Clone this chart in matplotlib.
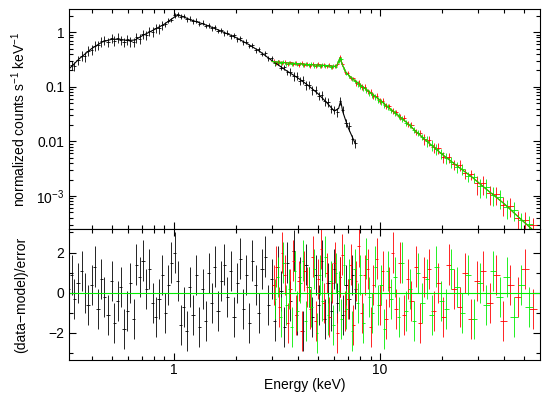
import numpy as np
import matplotlib
matplotlib.use("Agg")
import matplotlib.pyplot as plt
from matplotlib.ticker import FixedLocator, FixedFormatter, LogLocator, MultipleLocator, NullFormatter

plt.rcParams['font.family'] = ['Liberation Sans', 'DejaVu Sans']
plt.rcParams['mathtext.fontset'] = 'custom'
plt.rcParams['mathtext.rm'] = 'Liberation Sans'

# --- soft X-ray spectrum (black) ---
e_blk = [0.31, 0.32, 0.33, 0.345, 0.36, 0.37, 0.385, 0.40, 0.415, 0.43, 0.445, 0.46, 0.48, 0.50,
         0.515, 0.535, 0.555, 0.575, 0.595, 0.615, 0.64, 0.66, 0.685, 0.71, 0.735, 0.76, 0.79,
         0.82, 0.85, 0.88, 0.91, 0.94, 0.975, 1.01, 1.045, 1.08, 1.12, 1.16, 1.20, 1.24, 1.285,
         1.33, 1.38, 1.43, 1.48, 1.53, 1.585, 1.64, 1.70, 1.76, 1.82, 1.89, 1.96, 2.03, 2.10,
         2.17, 2.25, 2.33, 2.41, 2.50, 2.59, 2.68, 2.78, 2.88, 2.98, 3.09, 3.20, 3.31, 3.43,
         3.55, 3.68, 3.81, 3.95, 4.09, 4.23, 4.38, 4.54, 4.70, 4.87, 5.04, 5.22, 5.41, 5.60,
         5.80, 6.00, 6.20, 6.40, 6.60, 6.85, 7.10, 7.35, 7.60]
f_blk = [0.20, 0.25, 0.24, 0.31, 0.37, 0.36, 0.46, 0.48, 0.57, 0.58, 0.68, 0.72, 0.66, 0.78,
         0.70, 0.79, 0.72, 0.66, 0.74, 0.68, 0.66, 0.80, 0.76, 0.92, 0.88, 1.05, 1.02,
         1.20, 1.18, 1.36, 1.40, 1.62, 1.68, 2.05, 2.15, 1.92, 1.98, 1.74, 1.78, 1.58, 1.62,
         1.44, 1.49, 1.30, 1.34, 1.19, 1.22, 1.06, 1.09, 0.95, 0.98, 0.85, 0.87, 0.74, 0.77,
         0.66, 0.67, 0.56, 0.58, 0.47, 0.49, 0.40, 0.41, 0.33, 0.33, 0.27, 0.28, 0.225, 0.23,
         0.185, 0.19, 0.155, 0.16, 0.13, 0.135, 0.108, 0.11, 0.087, 0.089, 0.069, 0.070, 0.054, 0.053,
         0.040, 0.038, 0.034, 0.056, 0.038, 0.022, 0.019, 0.011, 0.0092]
r_blk = [0.2, 0.9, -0.3, 0.5, 1.1, 0.0, -0.6, 0.4, 1.3, -0.8,
         0.7, -0.2, -1.1, 0.6, -1.5, -0.4, 0.3, -1.8, -0.9, 0.5,
         -1.3, 1.4, 0.8, 1.6, 0.2, 1.2, -0.5, -1.2, -0.3, 0.9,
         -1.0, 0.4, 1.5, 2.0, 0.6, -1.6, -0.7, -1.9, 0.3, -1.1,
         0.9, -1.7, 0.2, -1.4, 1.0, -0.5, 1.3, -0.9, 0.6, 1.4,
         -0.2, 1.1, -1.2, 0.5, 1.7, -0.8, 0.9, -1.5, 1.6, 0.4,
         -1.0, 1.2, 1.8, -0.6, 0.7, -1.4, 1.3, 0.1, -1.7, 1.5,
         -0.4, 2.1, -1.1, 0.8, -1.9, 1.4, 0.3, -1.2, 0.9, -0.6,
         1.6, -1.3, 0.5, -0.9, 1.2, -0.5, 0.8, -1.1, 0.4, -0.3,
         0.9, 0.2]
ferr_blk = [0.20] * 30 + [0.10] * 40 + [0.18] * 22

me_blk = [0.31, 0.35, 0.40, 0.45, 0.50, 0.55, 0.60, 0.65, 0.70, 0.80, 0.90, 1.00, 1.05, 1.10,
          1.20, 1.40, 1.60, 1.80, 2.00, 2.30, 2.60, 3.00, 3.50, 4.00, 4.50, 5.00, 5.50, 6.00,
          6.30, 6.45, 6.60, 7.00, 7.60]
mf_blk = [0.21, 0.33, 0.50, 0.66, 0.74, 0.74, 0.70, 0.72, 0.85, 1.10, 1.40, 1.85, 2.05, 1.95,
          1.70, 1.40, 1.15, 0.95, 0.80, 0.60, 0.45, 0.30, 0.20, 0.145, 0.105, 0.075, 0.052, 0.036,
          0.040, 0.055, 0.035, 0.018, 0.009]

# --- hard X-ray spectra (red, green) ---
e_red = [3.05, 3.15, 3.25, 3.35, 3.46, 3.57, 3.68, 3.80, 3.92, 4.04, 4.17, 4.30, 4.44, 4.58,
         4.72, 4.87, 5.02, 5.18, 5.34, 5.51, 5.68, 5.86, 6.04, 6.22, 6.40, 6.58, 6.78, 6.98,
         7.20, 7.42, 7.65, 7.90, 8.15, 8.42, 8.70, 9.00, 9.30, 9.62, 9.95, 10.3, 10.7, 11.1,
         11.5, 12.0, 12.5, 13.0, 13.6, 14.2, 14.9, 15.6, 16.4, 17.3, 18.2, 19.2, 20.3, 21.5,
         22.8, 24.3, 25.9, 27.6, 29.5, 31.6, 34.0, 36.6, 39.5, 42.8, 46.5, 50.5, 55.0]
f_red = [0.30, 0.27, 0.29, 0.27, 0.285, 0.26, 0.28, 0.26, 0.275, 0.255, 0.27, 0.25, 0.265, 0.245,
         0.26, 0.244, 0.258, 0.24, 0.255, 0.236, 0.25, 0.23, 0.245, 0.265, 0.35, 0.26, 0.19, 0.178,
         0.145, 0.142, 0.119, 0.118, 0.10, 0.099, 0.083, 0.081, 0.069, 0.068, 0.056, 0.056, 0.045, 0.044,
         0.036, 0.034, 0.028, 0.027, 0.021, 0.020, 0.0148, 0.0142, 0.0110, 0.0104, 0.0078, 0.0075, 0.0052, 0.0051,
         0.0038, 0.0037, 0.0026, 0.0025, 0.0017, 0.0017, 0.00112, 0.00108, 0.00068, 0.00066, 0.00039, 0.00037, 0.00029]
r_red = [0.4, 1.3, -0.7, 2.0, 0.9, -1.5, 0.2, 1.6, -1.1, 0.6,
         -1.9, 1.1, 0.3, -0.8, 1.8, -1.4, 0.7, 2.2, -0.5, 1.0,
         -1.2, 0.5, 1.5, -2.0, 0.8, 1.9, -0.9, -0.3, 1.4, -1.6,
         0.6, 2.3, -1.0, 0.9, 1.2, -1.7, 0.4, 1.7, -0.6, 1.1,
         -1.3, 0.3, 2.0, -0.8, 1.5, -1.1, 0.7, -0.4, 1.3, -1.5,
         0.8, 1.2, -0.9, 0.5, -1.2, 1.4, 0.2, -0.7, 1.0, -1.3,
         0.6, 1.1, -0.5, 0.9, -1.4, 0.4, -0.2, 1.2, -0.8]
ferr_red = [0.08] * 30 + [0.12] * 20 + [0.22] * 10 + [0.38] * 9

e_grn = [3.10, 3.20, 3.30, 3.40, 3.51, 3.62, 3.74, 3.86, 3.98, 4.10, 4.23, 4.37, 4.51, 4.65,
         4.80, 4.95, 5.10, 5.26, 5.42, 5.60, 5.77, 5.95, 6.13, 6.31, 6.49, 6.68, 6.88, 7.09,
         7.31, 7.54, 7.78, 8.03, 8.28, 8.56, 8.85, 9.15, 9.46, 9.78, 10.1, 10.5, 10.9, 11.3,
         11.8, 12.3, 12.8, 13.3, 13.9, 14.6, 15.3, 16.0, 16.9, 17.8, 18.7, 19.8, 20.9, 22.2,
         23.6, 25.1, 26.8, 28.6, 30.6, 32.8, 35.3, 38.0, 41.1, 44.6, 48.5, 53.0]
f_grn = [0.275, 0.29, 0.27, 0.284, 0.265, 0.278, 0.262, 0.272, 0.256, 0.268, 0.252, 0.263, 0.248, 0.258,
         0.243, 0.255, 0.241, 0.252, 0.238, 0.247, 0.232, 0.24, 0.235, 0.30, 0.32, 0.215, 0.175, 0.155,
         0.138, 0.126, 0.113, 0.104, 0.094, 0.087, 0.078, 0.072, 0.065, 0.058, 0.053, 0.047, 0.043, 0.037,
         0.033, 0.029, 0.026, 0.022, 0.0196, 0.0165, 0.0142, 0.0121, 0.0101, 0.0086, 0.0072, 0.0060, 0.0050, 0.0042,
         0.0034, 0.0031, 0.0023, 0.0022, 0.0015, 0.00148, 0.00104, 0.00094, 0.00062, 0.00056, 0.00036, 0.00031]
r_grn = [-0.3, 0.8, -1.2, 1.5, -0.6, 0.2, -1.7, 1.1, -0.9, 0.5,
         1.6, -1.4, 0.3, -0.7, 1.2, -2.0, 0.9, -0.4, 1.8, -1.1,
         0.6, -1.6, 1.0, 0.1, -1.3, 1.4, -0.8, 0.7, -1.9, 1.2,
         -0.5, 0.9, -1.5, 1.7, -0.2, -1.0, 1.3, -0.6, 0.4, -1.8,
         1.1, -0.3, 0.8, -1.2, 1.5, -0.9, 0.2, -1.4, 1.0, -0.5,
         0.7, -1.1, 1.3, -0.4, -0.8, 1.2, 0.3, -1.0, 0.9, -1.3,
         0.5, -0.6, 1.1, -0.2, 0.8, -1.2, 0.4, -0.7]
ferr_grn = [0.08] * 30 + [0.12] * 20 + [0.22] * 10 + [0.38] * 8

me_nu = [3.0, 3.5, 4.0, 4.5, 5.0, 5.5, 6.0, 6.2, 6.4, 6.55, 6.8, 7.2, 8.0, 9.0, 10, 11, 12,
         13.5, 15, 17, 20, 24, 28, 33, 40, 48, 58]
mf_nu = [0.29, 0.275, 0.265, 0.255, 0.25, 0.245, 0.235, 0.25, 0.34, 0.26, 0.19, 0.15, 0.11,
         0.078, 0.057, 0.042, 0.032, 0.022, 0.015, 0.0098, 0.0058, 0.0034, 0.0022, 0.0013,
         0.00072, 0.00038, 0.00020]


def half_widths(e):
    e = np.asarray(e, float)
    mid = np.sqrt(e[1:] * e[:-1])
    lo = np.concatenate([[e[0] ** 2 / mid[0]], mid])
    hi = np.concatenate([mid, [e[-1] ** 2 / mid[-1]]])
    return [e - lo, hi - e]


fig = plt.figure(figsize=(5.5, 3.98), dpi=100)
ax1 = fig.add_axes([0.126, 0.425, 0.856, 0.552])
ax2 = fig.add_axes([0.126, 0.095, 0.856, 0.330], sharex=ax1)

sets = [(e_blk, f_blk, r_blk, ferr_blk, 'black'),
        (e_red, f_red, r_red, ferr_red, 'red'),
        (e_grn, f_grn, r_grn, ferr_grn, '#00ee00')]

for e, f, r, fe, c in sets:
    xe = half_widths(e)
    f = np.asarray(f)
    ax1.errorbar(e, f, xerr=xe, yerr=f * np.asarray(fe), fmt='none', ecolor=c, elinewidth=0.6)
    ax2.errorbar(e, r, xerr=xe, yerr=1.0, fmt='none', ecolor=c, elinewidth=0.6)

ax1.plot(me_blk, mf_blk, color='black', lw=0.8)
ax1.plot(me_nu, mf_nu, color='red', lw=0.8)
ax1.plot(me_nu, mf_nu, color='#00ee00', lw=0.8)
ax2.axhline(0, color='#00ee00', lw=0.8)

ax1.set_xscale('log')
ax1.set_yscale('log')
ax1.set_xlim(0.312, 59.7)
ax1.set_ylim(2.5e-4, 2.64)
ax2.set_ylim(-3.37, 3.18)

ax1.yaxis.set_major_locator(FixedLocator([1, 0.1, 0.01, 0.001]))
ax1.yaxis.set_major_formatter(FixedFormatter(['1', '0.1', '0.01', '10$^{-3}$']))
ax1.yaxis.set_minor_locator(LogLocator(subs=np.arange(2, 10)))
ax1.yaxis.set_minor_formatter(NullFormatter())

ax2.xaxis.set_major_locator(FixedLocator([1, 10]))
ax2.xaxis.set_major_formatter(FixedFormatter(['1', '10']))
ax2.xaxis.set_minor_locator(LogLocator(subs=np.arange(2, 10)))
ax2.xaxis.set_minor_formatter(NullFormatter())
ax2.yaxis.set_major_locator(FixedLocator([-2, 0, 2]))
ax2.yaxis.set_major_formatter(FixedFormatter(['−2', '0', '2']))
ax2.yaxis.set_minor_locator(MultipleLocator(1))
plt.setp(ax1.get_xticklabels(), visible=False)

for ax in (ax1, ax2):
    ax.tick_params(which='both', direction='in', top=True, right=True, labelsize=10, width=0.8)
    ax.tick_params(which='major', length=5)
    ax.tick_params(which='minor', length=3)
    for s in ax.spines.values():
        s.set_linewidth(0.8)
ax2.tick_params(axis='x', pad=2)

ax1.set_ylabel('normalized counts s$^{-1}$ keV$^{-1}$', fontsize=10)
ax2.set_ylabel('(data−model)/error', fontsize=10)
ax2.set_xlabel('Energy (keV)', fontsize=10, labelpad=1)
ax1.yaxis.set_label_coords(-0.088, 0.5)
ax2.yaxis.set_label_coords(-0.088, 0.5)

fig.savefig('out.png', dpi=100)
